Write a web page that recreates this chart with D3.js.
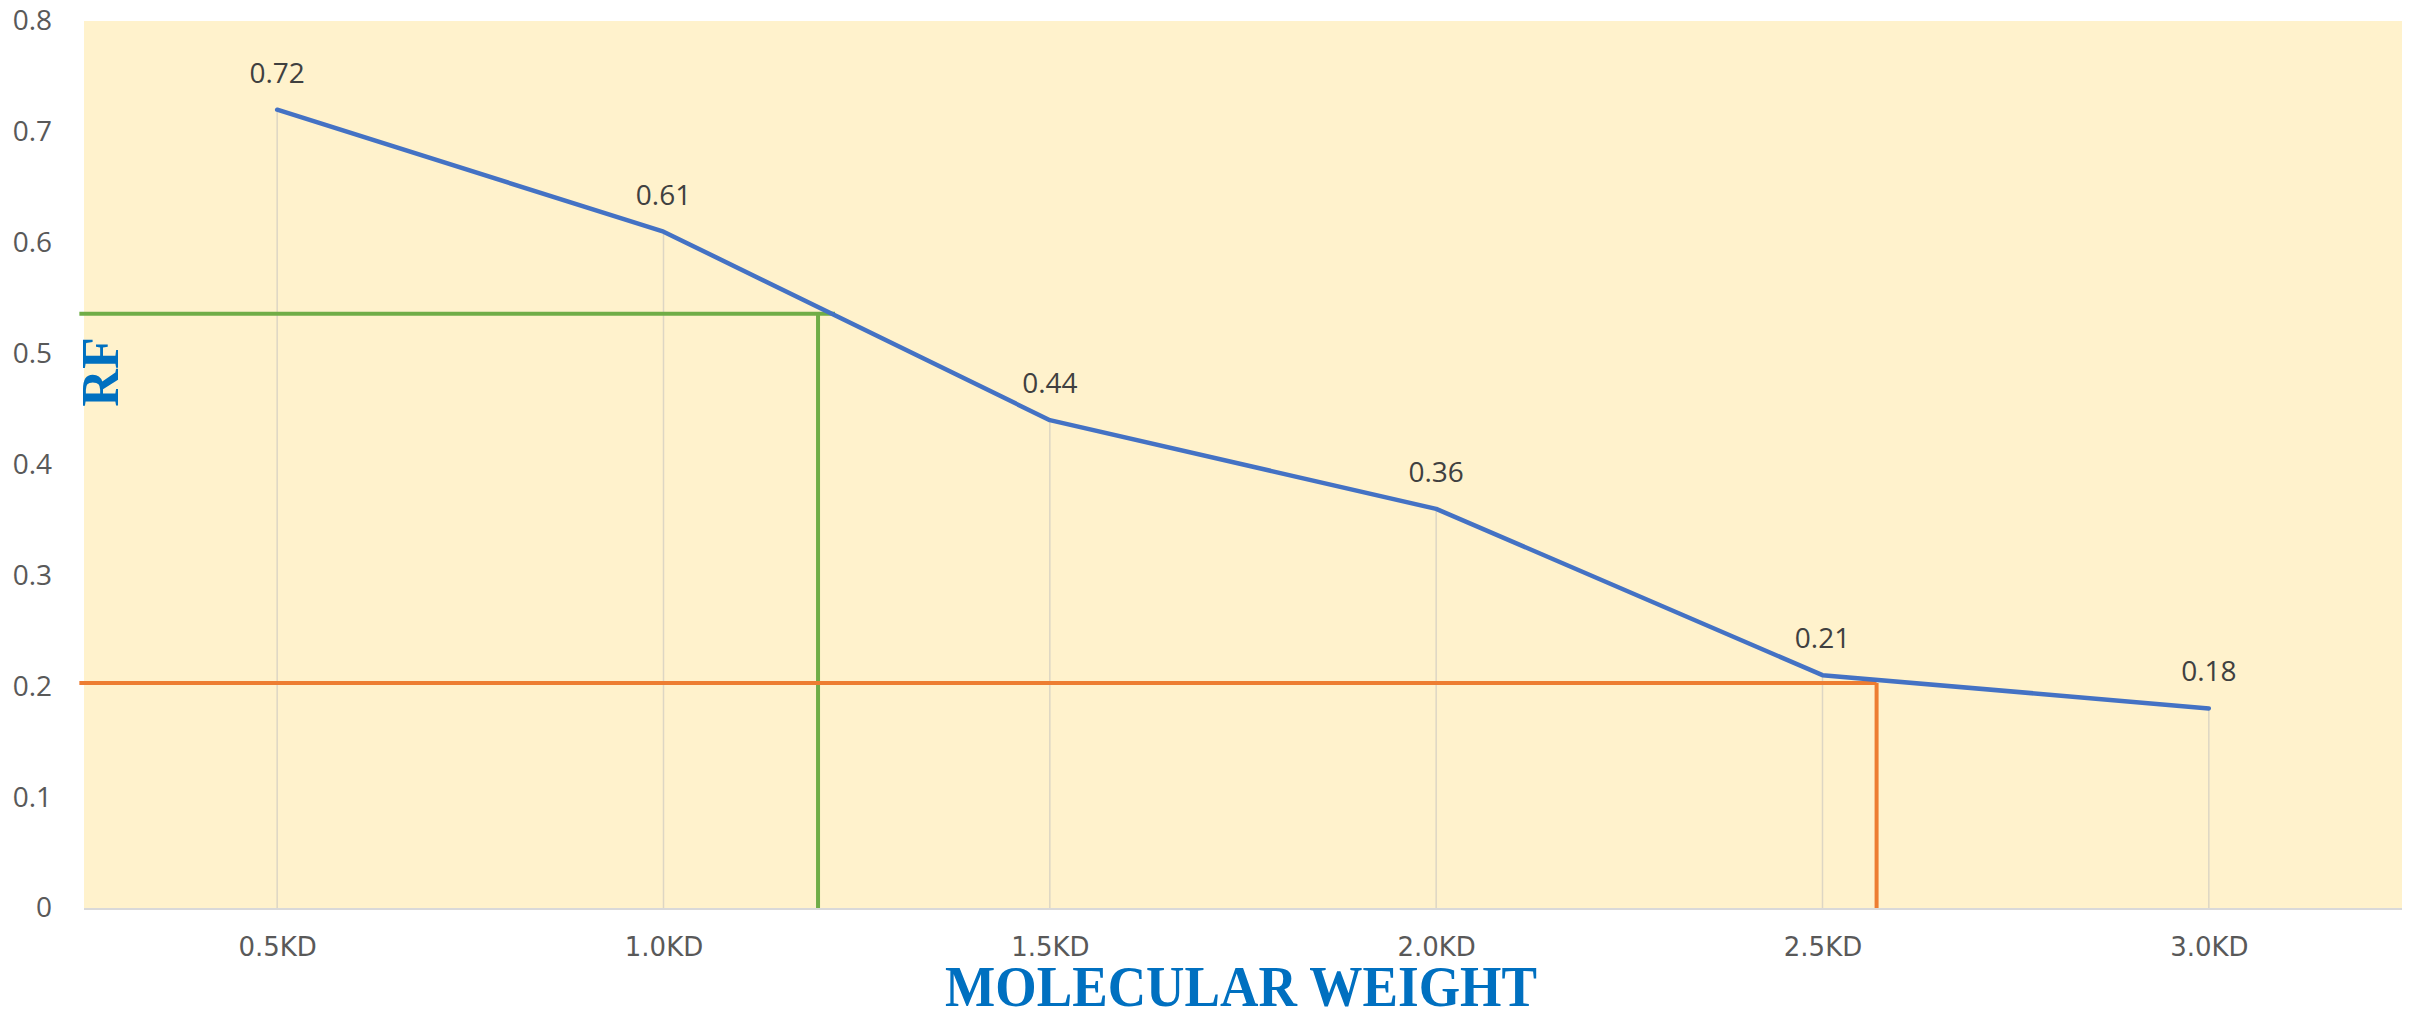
<!DOCTYPE html>
<html>
<head>
<meta charset="utf-8">
<script src="https://cdn.jsdelivr.net/npm/d3@7"></script>
<style>
  html, body { margin: 0; padding: 0; background: #ffffff; }
  svg { display: block; }
</style>
</head>
<body>
<svg id="chart" width="2417" height="1010"></svg>
<script>
// ---- data ----
const categories = ["0.5KD", "1.0KD", "1.5KD", "2.0KD", "2.5KD", "3.0KD"];
const molecularWeights = [0.5, 1.0, 1.5, 2.0, 2.5, 3.0];
const rfValues = [0.72, 0.61, 0.44, 0.36, 0.21, 0.18];
const yTicks = [0, 0.1, 0.2, 0.3, 0.4, 0.5, 0.6, 0.7, 0.8];
const greenH = [[0.244, 0.536], [1.222, 0.536]];
const greenV = [[1.2, 0.536], [1.2, 0]];
const orangeH = [[0.244, 0.203], [2.57, 0.203]];
const orangeV = [[2.57, 0.203], [2.57, 0]];

// ---- layout ----
const W = 2417, H = 1010;
const m = { left: 84, right: 15, top: 21, bottom: 102 };
const pw = W - m.left - m.right, ph = H - m.top - m.bottom;

const svg = d3.select("#chart");
const g = svg.append("g").attr("transform", `translate(${m.left},${m.top})`);

const x = d3.scaleLinear().domain([0.25, 3.25]).range([0, pw]);
const y = d3.scaleLinear().domain([0, 0.8]).range([ph, 0]);

// plot background
g.append("rect").attr("x", 0).attr("y", 0).attr("width", pw).attr("height", ph)
  .attr("fill", "#FFF2CC");

// drop lines
g.selectAll(".drop").data(molecularWeights).enter().append("line")
  .attr("x1", d => x(d)).attr("x2", d => x(d))
  .attr("y1", (d, i) => y(rfValues[i])).attr("y2", ph)
  .attr("stroke", "#DDD6C4").attr("stroke-width", 1.5);

// x axis line
g.append("line").attr("x1", 0).attr("x2", pw).attr("y1", ph + 1).attr("y2", ph + 1)
  .attr("stroke", "#D9D9D9").attr("stroke-width", 2);

// y tick labels
const yAxis = d3.axisLeft(y).tickValues(yTicks).tickSize(0).tickPadding(32)
  .tickFormat(d => d3.format("")(+d.toFixed(1)));
const ya = g.append("g").call(yAxis);
ya.select(".domain").remove();
ya.selectAll("text").attr("font-family", "'Open Sans', sans-serif").attr("font-size", 28)
  .attr("fill", "#595959");

// x tick labels
const xAxis = d3.axisBottom(x).tickValues(molecularWeights).tickSize(0).tickPadding(30)
  .tickFormat((d, i) => categories[i]);
const xa = g.append("g").attr("transform", `translate(0,${ph})`).call(xAxis);
xa.select(".domain").remove();
xa.selectAll("text").attr("font-family", "'DejaVu Sans', sans-serif").attr("font-size", 26)
  .attr("fill", "#595959");

// guide lines
const lineGen = d3.line().x(d => x(d[0])).y(d => y(d[1]));
[[greenH, "#70AD47"], [greenV, "#70AD47"], [orangeH, "#ED7D31"], [orangeV, "#ED7D31"]]
  .forEach(([pts, col]) => {
    g.append("path").attr("d", lineGen(pts)).attr("fill", "none")
      .attr("stroke", col).attr("stroke-width", 4);
  });

// main line
const pts = molecularWeights.map((d, i) => [d, rfValues[i]]);
g.append("path").attr("d", lineGen(pts)).attr("fill", "none")
  .attr("stroke", "#4472C4").attr("stroke-width", 4.5)
  .attr("stroke-linejoin", "round").attr("stroke-linecap", "round");

// data labels
g.selectAll(".lbl").data(pts).enter().append("text")
  .attr("x", d => x(d[0])).attr("y", d => y(d[1]) - 27)
  .attr("text-anchor", "middle")
  .attr("font-family", "'Open Sans', sans-serif").attr("font-size", 28)
  .attr("fill", "#404040")
  .text(d => d[1].toFixed(2));

// axis titles
svg.append("text")
  .attr("transform", `translate(118,372) rotate(-90)`)
  .attr("text-anchor", "middle")
  .attr("font-family", "'Liberation Serif', 'Times New Roman', serif")
  .attr("font-weight", "bold").attr("font-size", 52)
  .attr("fill", "#0070C0")
  .text("RF");

svg.append("text")
  .attr("x", 1241).attr("y", 1006)
  .attr("text-anchor", "middle")
  .attr("font-family", "'Liberation Serif', 'Times New Roman', serif")
  .attr("font-weight", "bold").attr("font-size", 57)
  .attr("textLength", 592).attr("lengthAdjust", "spacingAndGlyphs")
  .attr("fill", "#0070C0")
  .text("MOLECULAR WEIGHT");
</script>
</body>
</html>
